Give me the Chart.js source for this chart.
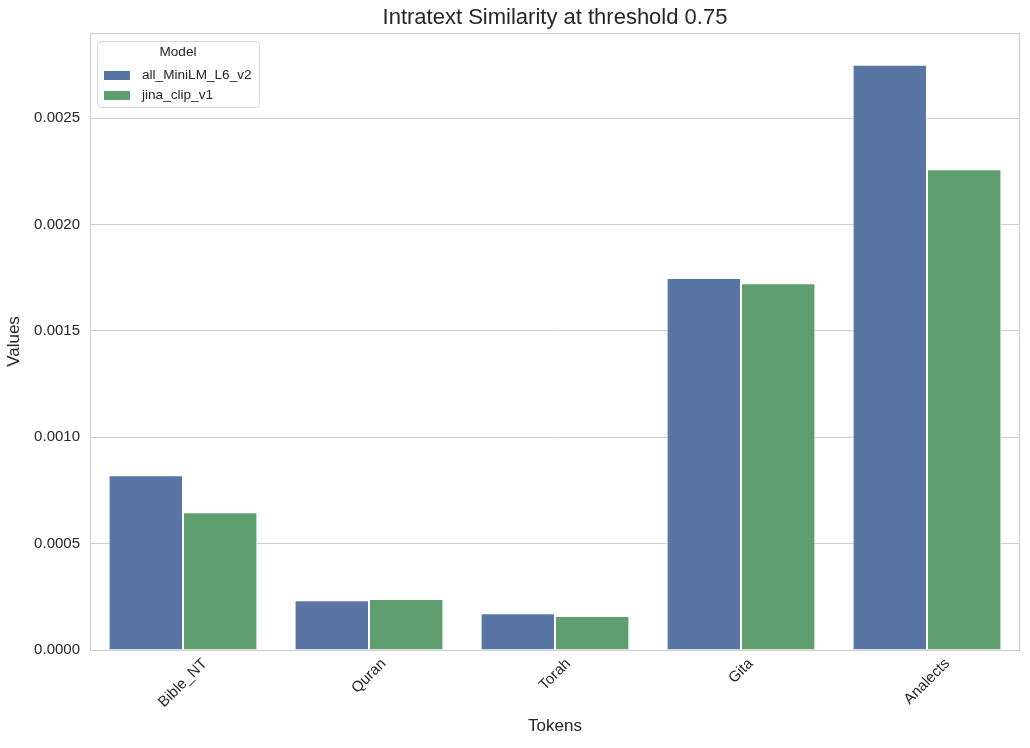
<!DOCTYPE html>
<html>
<head>
<meta charset="utf-8">
<script src="https://cdn.jsdelivr.net/npm/chart.js@4/dist/chart.umd.min.js"></script>
<style>
  html, body { margin: 0; padding: 0; background: #fff; }
  #wrap { position: relative; width: 1030px; height: 748px; }
</style>
</head>
<body>
<div id="wrap"><canvas id="simChart"></canvas></div>
<script>
const categories = ["Bible_NT", "Quran", "Torah", "Gita", "Analects"];
const miniLM = [0.000821, 0.000234, 0.000173, 0.001748, 0.002751];
const jinaClip = [0.000647, 0.000240, 0.000160, 0.001724, 0.002260];
const yTicks = [0, 0.0005, 0.0010, 0.0015, 0.0020, 0.0025];

const FONT = '"Liberation Sans", Arial, sans-serif';
const TEXT = "#262626";
const GRID = "#cccccc";
const TITLE = "Intratext Similarity at threshold 0.75";

// title over the axes, spines, rotated x labels and the in-plot legend
const extras = {
    id: "extras",
    afterDraw(chart) {
        const ctx = chart.ctx;
        const area = chart.chartArea;
        const xs = chart.scales.x;

        ctx.save();
        ctx.fillStyle = TEXT;
        ctx.font = "22px " + FONT;
        ctx.textAlign = "center";
        ctx.textBaseline = "middle";
        ctx.fillText(TITLE, (area.left + area.right) / 2, 18);

        // top / right spines
        ctx.strokeStyle = GRID;
        ctx.lineWidth = 1;
        ctx.beginPath();
        ctx.moveTo(area.left, area.top + 0.5);
        ctx.lineTo(area.right, area.top + 0.5);
        ctx.moveTo(area.right - 0.5, area.top);
        ctx.lineTo(area.right - 0.5, area.bottom);
        ctx.stroke();

        // x tick labels, rotated 45 deg around their centre
        ctx.font = "15px " + FONT;
        ctx.fillStyle = TEXT;
        categories.forEach((label, i) => {
            const x = xs.getPixelForTick(i);
            const w = ctx.measureText(label).width;
            const ext = (w + 15) * Math.SQRT1_2;
            const cy = area.bottom + 6 + ext / 2;
            ctx.save();
            ctx.translate(x, cy);
            ctx.rotate(-Math.PI / 4);
            ctx.fillText(label, 0, 0);
            ctx.restore();
        });

        // legend box
        const bx = area.left + 7, by = area.top + 8, bw = 162, bh = 66;
        ctx.beginPath();
        ctx.roundRect(bx + 0.5, by + 0.5, bw, bh, 4);
        ctx.fillStyle = "rgba(255,255,255,0.8)";
        ctx.fill();
        ctx.strokeStyle = "#d6d6d6";
        ctx.stroke();

        ctx.fillStyle = TEXT;
        ctx.font = "13.6px " + FONT;
        ctx.fillText("Model", bx + bw / 2, by + 11);

        ctx.textAlign = "left";
        chart.data.datasets.forEach((ds, i) => {
            const rowY = by + 34 + i * 20;
            ctx.fillStyle = ds.backgroundColor;
            ctx.fillRect(bx + 7, rowY - 4, 26, 9);
            ctx.fillStyle = TEXT;
            ctx.fillText(ds.label, bx + 45, rowY);
        });
        ctx.restore();
    },
};

const chartData = {
    labels: categories,
    datasets: [
        {
            label: "all_MiniLM_L6_v2",
            data: miniLM,
            backgroundColor: "#5875a4",
            borderColor: "#ffffff",
            borderWidth: 1,
        },
        {
            label: "jina_clip_v1",
            data: jinaClip,
            backgroundColor: "#5f9e6e",
            borderColor: "#ffffff",
            borderWidth: 1,
        },
    ],
};

const chartOptions = {
    responsive: true,
    maintainAspectRatio: false,
    animation: false,
    layout: { padding: { left: 0, right: 10, top: 33, bottom: 0 } },
    datasets: {
        bar: { categoryPercentage: 0.8, barPercentage: 1.0 },
    },
    scales: {
        x: {
            grid: { display: false },
            border: { display: true, color: GRID, width: 1 },
            ticks: { display: false },
            afterFit(scale) { scale.height = 98; },
            title: {
                display: true,
                text: "Tokens",
                color: TEXT,
                font: { family: FONT, size: 17 },
                padding: { top: 4, bottom: 11 },
            },
        },
        y: {
            min: 0,
            max: 0.0029,
            afterBuildTicks(scale) {
                scale.ticks = yTicks.map((v) => ({ value: v }));
            },
            afterFit(scale) { scale.width = 90; },
            grid: { color: GRID, lineWidth: 1, drawTicks: false },
            border: { display: true, color: GRID, width: 1 },
            ticks: {
                color: TEXT,
                padding: 10,
                font: { family: FONT, size: 15 },
                callback: (v) => Number(v).toFixed(4),
            },
            title: {
                display: true,
                text: "Values",
                color: TEXT,
                font: { family: FONT, size: 17 },
                padding: { top: 4, bottom: 4 },
            },
        },
    },
    plugins: {
        legend: { display: false },
        tooltip: { enabled: false },
        title: { display: false },
    },
};

new Chart(document.getElementById("simChart"), {
    type: "bar",
    data: chartData,
    options: chartOptions,
    plugins: [extras],
});
</script>
</body>
</html>
